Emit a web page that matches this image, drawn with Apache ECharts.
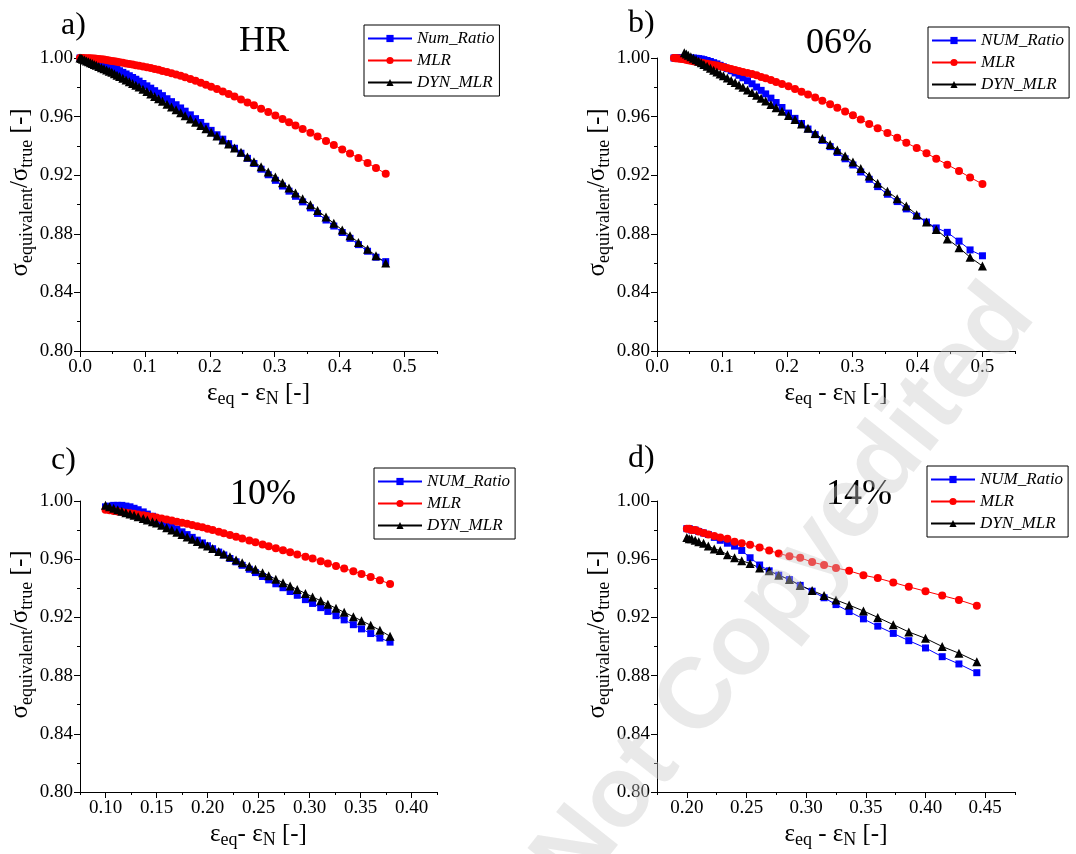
<!DOCTYPE html>
<html>
<head>
<meta charset="utf-8">
<script src="https://cdn.jsdelivr.net/npm/echarts@6/dist/echarts.min.js"></script>
<style>
  html, body { margin: 0; background: #fff; }
  #chart { width: 1076px; height: 854px; }
</style>
</head>
<body>
<div id="chart"></div>
<script>
// a) HR
const xA = [0, 0.002, 0.004, 0.007, 0.010, 0.013, 0.016, 0.019, 0.022, 0.025, 0.029, 0.033, 0.037, 0.041, 0.045, 0.049, 0.053, 0.057, 0.061, 0.066, 0.071, 0.076, 0.081, 0.086, 0.091, 0.097, 0.103, 0.109, 0.115, 0.121, 0.127, 0.134, 0.141, 0.148, 0.155, 0.162, 0.170, 0.178, 0.186, 0.194, 0.202, 0.211, 0.220, 0.229, 0.238, 0.248, 0.258, 0.268, 0.279, 0.290, 0.301, 0.312, 0.322, 0.332, 0.343, 0.355, 0.366, 0.379, 0.391, 0.404, 0.416, 0.429, 0.443, 0.456, 0.471]
const numA = [1.0000, 0.9999, 0.9998, 0.9996, 0.9994, 0.9991, 0.9988, 0.9985, 0.9981, 0.9977, 0.9972, 0.9966, 0.9960, 0.9953, 0.9946, 0.9938, 0.9930, 0.9922, 0.9913, 0.9902, 0.9891, 0.9879, 0.9867, 0.9855, 0.9842, 0.9826, 0.9810, 0.9794, 0.9777, 0.9760, 0.9743, 0.9722, 0.9702, 0.9681, 0.9659, 0.9637, 0.9612, 0.9586, 0.9560, 0.9534, 0.9506, 0.9476, 0.9446, 0.9415, 0.9384, 0.9350, 0.9315, 0.9280, 0.9241, 0.9203, 0.9165, 0.9126, 0.9091, 0.9056, 0.9018, 0.8977, 0.8939, 0.8894, 0.8853, 0.8809, 0.8769, 0.8726, 0.8681, 0.8640, 0.8610]
const mlrA = [1.0000, 1.0000, 1.0000, 0.9999, 0.9999, 0.9998, 0.9998, 0.9997, 0.9996, 0.9995, 0.9993, 0.9991, 0.9989, 0.9986, 0.9983, 0.9980, 0.9977, 0.9974, 0.9971, 0.9967, 0.9963, 0.9959, 0.9955, 0.9951, 0.9947, 0.9942, 0.9937, 0.9931, 0.9925, 0.9919, 0.9912, 0.9904, 0.9896, 0.9887, 0.9878, 0.9868, 0.9856, 0.9844, 0.9831, 0.9818, 0.9804, 0.9788, 0.9772, 0.9755, 0.9737, 0.9717, 0.9697, 0.9677, 0.9654, 0.9631, 0.9608, 0.9584, 0.9562, 0.9540, 0.9516, 0.9489, 0.9464, 0.9434, 0.9406, 0.9376, 0.9348, 0.9318, 0.9284, 0.9250, 0.9210]
const dynA = [1.0000, 0.9996, 0.9992, 0.9986, 0.9980, 0.9974, 0.9968, 0.9962, 0.9956, 0.9950, 0.9942, 0.9934, 0.9926, 0.9918, 0.9910, 0.9902, 0.9893, 0.9883, 0.9874, 0.9862, 0.9850, 0.9838, 0.9826, 0.9814, 0.9802, 0.9787, 0.9771, 0.9755, 0.9738, 0.9721, 0.9704, 0.9685, 0.9665, 0.9646, 0.9626, 0.9606, 0.9584, 0.9562, 0.9539, 0.9517, 0.9494, 0.9467, 0.9440, 0.9413, 0.9386, 0.9356, 0.9324, 0.9292, 0.9257, 0.9222, 0.9187, 0.9148, 0.9113, 0.9078, 0.9040, 0.8998, 0.8959, 0.8914, 0.8872, 0.8826, 0.8786, 0.8741, 0.8694, 0.8650, 0.8600]

// b) 06%
const xB = [0.026, 0.028, 0.030, 0.033, 0.036, 0.039, 0.042, 0.045, 0.048, 0.052, 0.056, 0.060, 0.064, 0.068, 0.072, 0.077, 0.082, 0.087, 0.092, 0.097, 0.102, 0.108, 0.114, 0.120, 0.126, 0.132, 0.139, 0.146, 0.153, 0.160, 0.167, 0.175, 0.183, 0.192, 0.202, 0.212, 0.222, 0.232, 0.243, 0.254, 0.266, 0.277, 0.289, 0.301, 0.313, 0.326, 0.339, 0.354, 0.369, 0.383, 0.399, 0.414, 0.429, 0.446, 0.464, 0.481, 0.500]
const numB = [1.0000, 1.0000, 1.0000, 1.0000, 1.0000, 1.0000, 1.0000, 1.0000, 1.0000, 1.0000, 1.0000, 0.9998, 0.9996, 0.9993, 0.9989, 0.9983, 0.9976, 0.9968, 0.9960, 0.9950, 0.9940, 0.9927, 0.9913, 0.9898, 0.9882, 0.9865, 0.9845, 0.9824, 0.9802, 0.9779, 0.9755, 0.9726, 0.9696, 0.9662, 0.9624, 0.9588, 0.9553, 0.9515, 0.9477, 0.9438, 0.9395, 0.9355, 0.9312, 0.9270, 0.9222, 0.9172, 0.9122, 0.9070, 0.9020, 0.8970, 0.8920, 0.8880, 0.8840, 0.8810, 0.8750, 0.8690, 0.8650]
const mlrB = [1.0000, 0.9999, 0.9998, 0.9997, 0.9995, 0.9993, 0.9991, 0.9988, 0.9985, 0.9982, 0.9978, 0.9975, 0.9971, 0.9968, 0.9964, 0.9960, 0.9956, 0.9952, 0.9948, 0.9943, 0.9938, 0.9931, 0.9925, 0.9918, 0.9911, 0.9904, 0.9897, 0.9890, 0.9882, 0.9871, 0.9861, 0.9849, 0.9836, 0.9822, 0.9807, 0.9789, 0.9770, 0.9751, 0.9730, 0.9708, 0.9684, 0.9660, 0.9634, 0.9609, 0.9580, 0.9550, 0.9520, 0.9488, 0.9455, 0.9422, 0.9385, 0.9350, 0.9313, 0.9272, 0.9229, 0.9185, 0.9140]
const dynB = [null, null, null, null, null, null, 1.0035, 1.0027, 1.0019, 1.0009, 0.9998, 0.9988, 0.9977, 0.9967, 0.9956, 0.9943, 0.9930, 0.9917, 0.9904, 0.9891, 0.9878, 0.9863, 0.9847, 0.9832, 0.9816, 0.9800, 0.9782, 0.9764, 0.9745, 0.9726, 0.9706, 0.9683, 0.9660, 0.9636, 0.9608, 0.9580, 0.9550, 0.9520, 0.9485, 0.9450, 0.9410, 0.9372, 0.9331, 0.9290, 0.9245, 0.9195, 0.9145, 0.9090, 0.9040, 0.8990, 0.8930, 0.8880, 0.8830, 0.8765, 0.8705, 0.8640, 0.8580]

// c) 10%
const xC = [0.100, 0.104, 0.108, 0.112, 0.116, 0.120, 0.124, 0.128, 0.132, 0.137, 0.141, 0.146, 0.150, 0.155, 0.160, 0.165, 0.170, 0.175, 0.180, 0.185, 0.190, 0.195, 0.200, 0.205, 0.211, 0.216, 0.222, 0.228, 0.234, 0.241, 0.247, 0.254, 0.260, 0.267, 0.274, 0.281, 0.288, 0.296, 0.303, 0.311, 0.318, 0.326, 0.334, 0.343, 0.351, 0.360, 0.369, 0.379]
const numC = [0.996, 0.9965, 0.997, 0.997, 0.997, 0.9965, 0.996, 0.995, 0.994, 0.9925, 0.991, 0.9895, 0.988, 0.9862, 0.9844, 0.9826, 0.9807, 0.9788, 0.9769, 0.975, 0.9731, 0.9712, 0.9692, 0.9672, 0.9649, 0.9629, 0.9605, 0.9582, 0.9558, 0.9531, 0.9508, 0.9481, 0.9458, 0.9431, 0.9404, 0.9378, 0.9352, 0.9322, 0.9296, 0.9267, 0.9241, 0.9212, 0.9183, 0.915, 0.9121, 0.9089, 0.9058, 0.903]
const mlrC = [0.994, 0.9936, 0.9932, 0.9928, 0.9924, 0.992, 0.9916, 0.9912, 0.9907, 0.9902, 0.9897, 0.9892, 0.9887, 0.988, 0.9873, 0.9866, 0.9858, 0.9851, 0.9843, 0.9835, 0.9827, 0.9819, 0.981, 0.980, 0.9788, 0.9778, 0.9766, 0.9754, 0.9742, 0.9728, 0.9716, 0.9701, 0.9689, 0.9675, 0.9661, 0.9647, 0.9633, 0.9617, 0.9604, 0.9586, 0.9571, 0.9554, 0.9536, 0.9517, 0.9499, 0.9478, 0.9456, 0.943]
const dynC = [0.997, 0.996, 0.995, 0.994, 0.993, 0.992, 0.9911, 0.9902, 0.9892, 0.988, 0.987, 0.9858, 0.9848, 0.9833, 0.9817, 0.9801, 0.9785, 0.9769, 0.9753, 0.9737, 0.9721, 0.9705, 0.969, 0.9673, 0.9653, 0.9636, 0.9616, 0.9595, 0.9575, 0.9551, 0.9531, 0.9507, 0.9487, 0.9463, 0.9439, 0.9416, 0.9392, 0.9365, 0.9341, 0.9314, 0.929, 0.9263, 0.9235, 0.9205, 0.9177, 0.9146, 0.9112, 0.907]

// d) 14%
const xD = [0.200, 0.202, 0.204, 0.207, 0.210, 0.214, 0.218, 0.223, 0.228, 0.234, 0.240, 0.246, 0.253, 0.261, 0.269, 0.277, 0.286, 0.295, 0.305, 0.315, 0.325, 0.336, 0.348, 0.360, 0.373, 0.386, 0.400, 0.414, 0.428, 0.443]
const numD = [0.981, 0.981, 0.980, 0.980, 0.979, 0.978, 0.977, 0.975, 0.973, 0.971, 0.969, 0.966, 0.961, 0.956, 0.952, 0.949, 0.946, 0.942, 0.938, 0.9335, 0.9288, 0.924, 0.919, 0.914, 0.909, 0.904, 0.899, 0.893, 0.888, 0.882]
const mlrD = [0.981, 0.981, 0.980, 0.980, 0.979, 0.978, 0.977, 0.976, 0.975, 0.974, 0.972, 0.971, 0.970, 0.968, 0.966, 0.964, 0.962, 0.961, 0.958, 0.956, 0.954, 0.952, 0.949, 0.947, 0.944, 0.941, 0.938, 0.935, 0.932, 0.928]
const dynD = [0.975, 0.974, 0.974, 0.973, 0.972, 0.971, 0.969, 0.967, 0.966, 0.963, 0.961, 0.959, 0.957, 0.954, 0.952, 0.949, 0.946, 0.942, 0.9385, 0.935, 0.932, 0.9285, 0.9244, 0.920, 0.915, 0.910, 0.9056, 0.900, 0.8954, 0.8896]

// x 轴主刻度
const ticksAB = [0, 0.1, 0.2, 0.3, 0.4, 0.5]
const ticksC = [0.10, 0.15, 0.20, 0.25, 0.30, 0.35, 0.40]
const ticksD = [0.20, 0.25, 0.30, 0.35, 0.40, 0.45]

const FONT = '"Liberation Serif", "Times New Roman", serif'

const chart = echarts.init(document.getElementById('chart'))

// 把 x/y 数组拼成点
const pairs = (xs, ys) => {
  const out = []
  for (let i = 0; i < xs.length; i++) {
    if (ys[i] != null) out.push([xs[i], ys[i]])
  }
  return out
}

const mkSeries = (name, xs, ys, idx, color, symbol, size) => ({
  name: name,
  type: 'line',
  xAxisIndex: idx,
  yAxisIndex: idx,
  data: pairs(xs, ys),
  symbol: symbol,
  symbolSize: size,
  clip: false,
  itemStyle: { color: color },
  lineStyle: { color: color, width: 1 },
  emphasis: { disabled: true },
})

const grids = [
  { left: 80, top: 58, width: 357, height: 293 },
  { left: 657, top: 58, width: 358, height: 293 },
  { left: 80, top: 501, width: 357, height: 291 },
  { left: 657, top: 501, width: 358, height: 291 },
]

const tickStyle = { color: '#000', width: 1 }
const labelStyle = { fontFamily: FONT, fontSize: 19, color: '#000', margin: 7 }
const richName = {
  s: { fontFamily: FONT, fontSize: 25, color: '#000' },
  b: { fontFamily: FONT, fontSize: 18, color: '#000', padding: [12, 0, 0, 0] },
}

// 主轴：标签 + 长刻度
const xMain = (idx, min, max, ticks, digits, name) => ({
  type: 'value',
  gridIndex: idx,
  position: 'bottom',
  min: min,
  max: max,
  name: name,
  nameLocation: 'middle',
  nameGap: 27,
  nameTextStyle: { rich: richName },
  axisLine: { show: true, onZero: false, lineStyle: tickStyle },
  axisTick: { show: true, length: 6, lineStyle: tickStyle, customValues: ticks },
  splitLine: { show: false },
  axisLabel: Object.assign({ customValues: ticks, formatter: (v) => v.toFixed(digits) }, labelStyle),
})

// 副轴：只画短刻度
const xMinor = (idx, min, max, step) => ({
  type: 'value',
  gridIndex: idx,
  position: 'bottom',
  min: min,
  max: max,
  interval: step,
  axisLine: { show: false, onZero: false },
  axisTick: { show: true, length: 3, lineStyle: tickStyle },
  axisLabel: { show: false },
  splitLine: { show: false },
})

const yAxis = (idx) => ({
  type: 'value',
  gridIndex: idx,
  min: 0.8,
  max: 1.0,
  interval: 0.04,
  name: '{s|σ}{b|equivalent}{s|/σ}{b|true}{s| [-]}',
  nameLocation: 'middle',
  nameRotate: 90,
  nameGap: 40,
  nameTextStyle: { rich: richName, padding: [0, 0, 0, 24] },
  axisLine: { show: true, lineStyle: tickStyle },
  axisTick: { show: true, length: 6, lineStyle: tickStyle },
  minorTick: { show: true, splitNumber: 2, length: 3, lineStyle: tickStyle },
  splitLine: { show: false },
  axisLabel: Object.assign({ formatter: (v) => v.toFixed(2) }, labelStyle),
})

const xName = '{s|ε}{b|eq}{s| - ε}{b|N}{s| [-]}'
const xNameC = '{s|ε}{b|eq}{s|- ε}{b|N}{s| [-]}'

const mkLegend = (left, top, first) => ({
  left: left,
  top: top,
  orient: 'vertical',
  data: [first, 'MLR', 'DYN_MLR'],
  selectedMode: false,
  borderColor: '#000',
  borderWidth: 1,
  padding: [5, 5, 5, 3],
  itemWidth: 44,
  itemHeight: 9,
  itemGap: 5,
  textStyle: { fontFamily: FONT, fontStyle: 'italic', fontSize: 17, color: '#000' },
})

const ttl = (text, left, top, size) => ({
  text: text,
  left: left,
  top: top,
  padding: 0,
  textStyle: { fontFamily: FONT, fontSize: size, fontWeight: 'normal', color: '#000' },
})

const option = {
  animation: false,
  backgroundColor: '#fff',
  title: [
    ttl('a)', 61, 10, 32), ttl('HR', 239, 24, 36),
    ttl('b)', 628, 8, 32), ttl('06%', 806, 26, 36),
    ttl('c)', 51, 445, 32), ttl('10%', 230, 477, 36),
    ttl('d)', 628, 443, 32), ttl('14%', 826, 477, 36),
  ],
  grid: grids,
  legend: [
    mkLegend(364, 25, 'Num_Ratio'),
    mkLegend(928, 27, 'NUM_Ratio'),
    mkLegend(374, 468, 'NUM_Ratio'),
    mkLegend(927, 466, 'NUM_Ratio'),
  ],
  xAxis: [
    xMain(0, 0, 0.55, ticksAB, 1, xName),
    xMain(1, 0, 0.55, ticksAB, 1, xName),
    xMain(2, 0.075, 0.425, ticksC, 2, xNameC),
    xMain(3, 0.175, 0.475, ticksD, 2, xName),
    xMinor(0, 0, 0.55, 0.05),
    xMinor(1, 0, 0.55, 0.05),
    xMinor(2, 0.075, 0.425, 0.025),
    xMinor(3, 0.175, 0.475, 0.025),
  ],
  yAxis: [yAxis(0), yAxis(1), yAxis(2), yAxis(3)],
  series: [
    mkSeries('Num_Ratio', xA, numA, 0, '#0000ff', 'rect', 7),
    mkSeries('MLR', xA, mlrA, 0, '#ff0000', 'circle', 8),
    mkSeries('DYN_MLR', xA, dynA, 0, '#000000', 'triangle', 9),
    mkSeries('NUM_Ratio', xB, numB, 1, '#0000ff', 'rect', 7),
    mkSeries('MLR', xB, mlrB, 1, '#ff0000', 'circle', 8),
    mkSeries('DYN_MLR', xB, dynB, 1, '#000000', 'triangle', 9),
    mkSeries('NUM_Ratio', xC, numC, 2, '#0000ff', 'rect', 7),
    mkSeries('MLR', xC, mlrC, 2, '#ff0000', 'circle', 8),
    mkSeries('DYN_MLR', xC, dynC, 2, '#000000', 'triangle', 9),
    mkSeries('NUM_Ratio', xD, numD, 3, '#0000ff', 'rect', 7),
    mkSeries('MLR', xD, mlrD, 3, '#ff0000', 'circle', 8),
    mkSeries('DYN_MLR', xD, dynD, 3, '#000000', 'triangle', 9),
  ],
  // 水印
  graphic: [{
    type: 'text',
    x: 1015,
    y: 300,
    rotation: 0.9,
    z: 100,
    silent: true,
    style: {
      text: 'Accepted Manuscript Not Copyedited',
      font: 'bold 100px "Liberation Sans", Arial, sans-serif',
      fill: 'rgba(200,200,200,0.4)',
      textAlign: 'right',
      textVerticalAlign: 'middle',
    },
  }],
}

chart.setOption(option)
window.addEventListener('resize', () => {
  chart.resize()
})
</script>
</body>
</html>
